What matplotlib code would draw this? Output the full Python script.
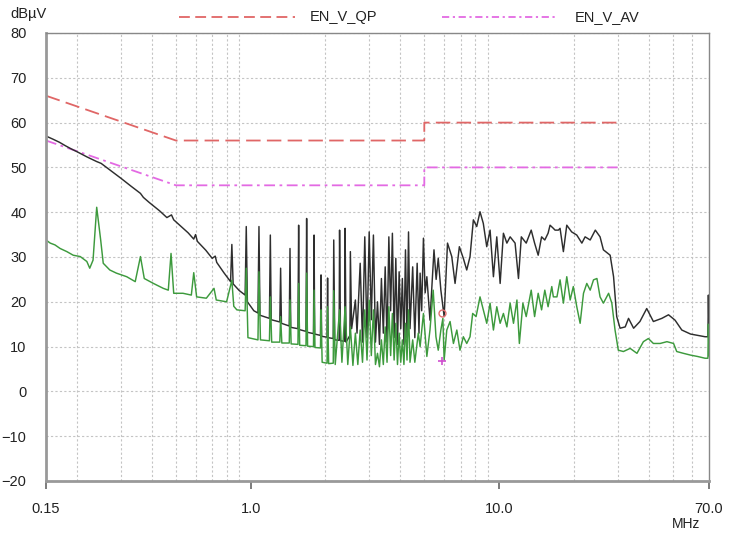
import matplotlib.pyplot as plt
from matplotlib.lines import Line2D
from matplotlib.ticker import FixedLocator, NullFormatter

plt.rcParams['font.family'] = ['Liberation Sans', 'DejaVu Sans']

# limit lines (MHz, dBuV)
lim_f = [0.15, 0.5, 5.0, 5.0, 30.0]
qp_lim = [66, 56, 56, 60, 60]
av_lim = [56, 46, 46, 50, 50]

# peak trace (black)
pk_f = [0.15, 0.16, 0.17, 0.18, 0.19, 0.20, 0.22, 0.24, 0.25, 0.27, 0.30, 0.33, 0.36, 0.37, 0.39,
        0.43, 0.46, 0.48, 0.49, 0.52, 0.56, 0.59, 0.60, 0.61, 0.66, 0.70, 0.72, 0.73, 0.78, 0.83,
        0.84, 0.85, 0.90, 0.95, 0.96, 0.97, 1.03, 1.07, 1.08, 1.09, 1.19, 1.20, 1.21, 1.31, 1.32,
        1.33, 1.43, 1.44, 1.45, 1.55, 1.56, 1.57, 1.67, 1.68, 1.69, 1.79, 1.80, 1.81, 1.91, 1.92,
        1.93, 2.03, 2.04, 2.05, 2.15, 2.16, 2.18, 2.27, 2.28, 2.30, 2.39, 2.40, 2.42, 2.51, 2.52,
        2.55, 2.64, 2.68, 2.76, 2.82, 2.88, 2.94, 3.00, 3.06, 3.12, 3.18, 3.24, 3.30, 3.36, 3.42,
        3.48, 3.54, 3.60, 3.66, 3.72, 3.78, 3.84, 3.90, 3.96, 4.02, 4.08, 4.14, 4.20, 4.26, 4.32,
        4.38, 4.49, 4.58, 4.68, 4.76, 4.81, 4.88, 4.96, 5.04, 5.12, 5.27, 5.47, 5.58, 5.69, 5.83,
        6.01, 6.20, 6.45, 6.65, 6.92, 7.18, 7.41, 7.64, 7.88, 8.13, 8.38, 8.64, 8.92, 9.20, 9.49,
        9.79, 10.1, 10.41, 10.75, 11.08, 11.6, 11.97, 12.29, 12.86, 13.47, 13.9, 14.37, 14.83,
        15.28, 15.75, 16.04, 16.54, 16.8, 17.33, 17.6, 18.15, 18.73, 19.6, 20.55, 21.54, 22.2,
        23.27, 24.4, 25.5, 26.3, 28.0, 28.9, 29.76, 30.7, 32.2, 33.2, 34.8, 36.9, 39.3, 41.8,
        45.2, 48.1, 51.1, 54.4, 59.0, 64.4, 67.5, 69.3, 69.6, 70.0]
pk_db = [57.0, 56.3, 55.6, 54.8, 54.1, 53.5, 52.3, 51.3, 50.9, 49.5, 47.6, 45.8, 44.2, 43.3, 42.2,
         40.3, 38.8, 39.4, 38.3, 37.0, 35.4, 34.0, 35.0, 33.5, 31.5, 29.7, 30.2, 28.8, 26.5, 24.5,
         32.8, 24.0, 22.5, 21.5, 36.8, 20.0, 18.0, 17.5, 36.8, 17.0, 16.3, 34.9, 16.0, 15.5, 27.5,
         15.2, 14.6, 31.9, 14.3, 14.0, 37.1, 13.8, 13.4, 38.6, 13.2, 12.9, 34.9, 12.8, 12.5, 26.0,
         12.3, 12.1, 25.3, 12.0, 11.8, 33.8, 11.5, 11.4, 36.0, 11.3, 11.2, 36.4, 11.0, 12.5, 31.2,
         14.0, 20.4, 13.0, 28.6, 11.0, 34.5, 12.0, 35.6, 16.0, 34.9, 11.0, 20.0, 10.5, 25.2, 13.0,
         27.8, 11.0, 34.5, 18.0, 35.3, 12.0, 29.7, 10.5, 26.7, 14.0, 25.2, 10.5, 31.6, 12.0, 35.6,
         14.0, 27.8, 12.0, 28.6, 13.0, 26.4, 18.0, 34.2, 22.0, 25.6, 15.9, 31.6, 25.0, 29.7, 22.6,
         16.7, 33.1, 30.1, 24.1, 32.3, 29.7, 27.1, 30.1, 38.3, 36.8, 40.1, 37.5, 32.3, 36.0, 25.6,
         34.5, 24.1, 35.3, 33.1, 34.5, 33.1, 25.2, 34.5, 33.1, 36.0, 33.1, 30.4, 34.5,
         33.8, 35.3, 37.1, 36.4, 36.0, 36.0, 36.4, 31.2, 37.1, 35.6, 34.9, 33.1, 34.5,
         33.8, 36.0, 34.5, 31.6, 30.4, 25.6, 16.7, 14.1, 14.4, 16.3, 14.1, 15.6, 18.5, 15.6,
         16.3, 17.1, 15.9, 13.7, 12.8, 12.4, 12.2, 12.2, 21.5, 13.0]

# average trace (green)
av_f = [0.15, 0.156, 0.163, 0.171, 0.182, 0.193, 0.206, 0.219, 0.225, 0.232, 0.24, 0.249, 0.255,
        0.271, 0.288, 0.317, 0.343, 0.36, 0.373, 0.406, 0.445, 0.466, 0.478, 0.49, 0.534, 0.577,
        0.59, 0.606, 0.663, 0.712, 0.727, 0.80, 0.84, 0.855, 0.88, 0.95, 0.96, 0.975, 1.07, 1.08,
        1.095, 1.19, 1.20, 1.215, 1.31, 1.32, 1.335, 1.43, 1.44, 1.455, 1.55, 1.56, 1.575, 1.67,
        1.68, 1.695, 1.79, 1.80, 1.815, 1.91, 1.92, 1.94, 2.03, 2.04, 2.06, 2.15, 2.16, 2.19, 2.28,
        2.33, 2.40, 2.46, 2.52, 2.58, 2.64, 2.70, 2.76, 2.82, 2.88, 2.94, 3.00, 3.06, 3.12, 3.18,
        3.24, 3.30, 3.36, 3.42, 3.48, 3.54, 3.60, 3.66, 3.72, 3.78, 3.84, 3.90, 3.96, 4.02, 4.08,
        4.14, 4.20, 4.26, 4.32, 4.38, 4.49, 4.58, 4.73, 4.81, 4.96, 5.12, 5.27, 5.43, 5.57, 5.69,
        5.83, 5.94, 6.01, 6.16, 6.35, 6.55, 6.76, 6.96, 7.18, 7.41, 7.64, 7.83, 8.08, 8.38, 8.64,
        8.92, 9.20, 9.49, 9.79, 10.1, 10.41, 10.75, 11.08, 11.43, 11.8, 12.07, 12.47, 12.86,
        13.47, 13.9, 14.37, 14.83, 15.28, 15.75, 16.3, 16.54, 17.1, 17.6, 18.15, 18.73, 19.33,
        19.9, 20.55, 21.2, 21.87, 22.55, 23.27, 24.0, 24.77, 25.5, 26.3, 27.6, 28.44, 29.3, 30.2,
        31.66, 33.7, 35.9, 38.1, 39.9, 41.8, 44.5, 47.4, 50.4, 51.9, 55.2, 59.0, 62.9, 67.5, 69.3,
        69.6, 70.0]
av_db = [33.8, 33.1, 32.7, 31.9, 31.2, 30.4, 30.1, 29.0, 27.5, 29.3, 41.1, 33.8, 28.6,
         27.1, 26.4, 25.6, 24.5, 30.1, 25.2, 24.1, 23.0, 22.6, 30.8, 21.9, 21.9, 21.5,
         26.5, 21.1, 20.8, 23.0, 20.4, 20.0, 24.8, 19.0, 18.2, 18.0, 27.5, 12.0, 11.5, 26.7,
         11.5, 11.3, 21.1, 11.0, 11.0, 16.7, 10.8, 10.8, 20.4, 10.6, 10.5, 24.1, 10.3, 10.2,
         26.4, 10.1, 10.0, 22.6, 9.8, 9.7, 18.2, 6.5, 6.3, 18.9, 6.2, 6.3, 22.5, 6.0, 18.2,
         6.5, 18.9, 6.0, 14.4, 5.8, 13.0, 6.0, 13.7, 6.5, 18.2, 7.0, 20.4, 8.0, 18.2, 6.0,
         8.5, 5.5, 11.5, 6.0, 14.4, 6.5, 18.9, 8.0, 17.4, 7.0, 15.2, 6.0, 13.0, 6.5, 11.5,
         6.0, 15.2, 7.0, 18.2, 6.5, 11.5, 6.5, 13.0, 10.0, 17.4, 7.8, 13.7, 22.6, 12.2, 9.2,
         13.7, 16.3, 7.0, 13.7, 15.6, 10.7, 13.7, 9.2, 12.2, 10.7, 12.2, 17.4, 16.7, 21.1, 18.2,
         15.2, 19.7, 13.7, 18.9, 15.2, 17.4, 14.4, 19.7, 15.2, 20.4, 10.7, 19.7, 16.7,
         22.6, 16.7, 21.9, 18.2, 22.6, 18.9, 23.4, 21.1, 21.1, 24.9, 19.7, 25.6, 20.4,
         23.4, 18.9, 15.2, 21.9, 24.1, 22.6, 24.9, 25.2, 21.1, 19.7, 21.9, 19.7, 13.7, 9.2,
         8.9, 9.6, 8.5, 11.1, 11.8, 10.7, 10.7, 11.1, 10.7, 8.9, 8.5, 8.1, 7.8, 7.4, 7.4,
         15.0, 8.0]

mark_f = [5.9]
mark_qp = [17.4]
mark_av = [6.7]

W, H = 732, 536
fig = plt.figure(figsize=(W / 100, H / 100), dpi=100)
ax = fig.add_axes([46 / W, 1 - 481 / H, (709 - 46) / W, (481 - 33) / H])

ax.plot(lim_f, qp_lim, color='#e06666', lw=1.3, dashes=(8, 3.5))
ax.plot(lim_f, av_lim, color='#e36ae3', lw=1.3, dashes=(6, 2.5, 1.5, 2.5))
ax.plot(pk_f, pk_db, color='#2e2e2e', lw=1.05)
ax.plot(av_f, av_db, color='#3d9a3d', lw=1.05)
ax.plot(mark_f, mark_qp, 'o', ms=5, mfc='none', mec='#e07070', mew=1)
ax.plot(mark_f, mark_av, '+', ms=6, color='#d050d0', mew=1.2)

ax.set_xscale('log')
ax.set_xlim(0.15, 70)
ax.set_ylim(-20, 80)
ax.xaxis.set_major_locator(FixedLocator([0.15, 1.0, 10.0, 70.0]))
ax.set_xticklabels(['0.15', '1.0', '10.0', '70.0'])
minor = [0.2, 0.3, 0.4, 0.5, 0.6, 0.7, 0.8, 0.9, 1, 2, 3, 4, 5, 6, 7, 8, 9, 10,
         20, 30, 40, 50, 60]
ax.xaxis.set_minor_locator(FixedLocator(minor))
ax.xaxis.set_minor_formatter(NullFormatter())
ax.set_yticks(range(-20, 81, 10))

ax.grid(which='minor', axis='x', color='#c4c4c4', lw=0.8, dashes=(2, 2))
ax.grid(which='major', axis='y', color='#c4c4c4', lw=0.8, dashes=(2, 2))
ax.tick_params(axis='x', which='minor', length=0)
ax.tick_params(axis='x', which='major', length=6, width=1.2, color='#666666',
               direction='out', pad=9, labelsize=10.5, labelcolor='#222222')
ax.tick_params(axis='y', length=0, pad=14, labelsize=10.5, labelcolor='#222222')

for s in ['left', 'bottom']:
    ax.spines[s].set_color('#999999')
    ax.spines[s].set_linewidth(2)
for s in ['top', 'right']:
    ax.spines[s].set_color('#888888')
    ax.spines[s].set_linewidth(1)

fig.text(10 / W, 1 - 14 / H, 'dB\u00b5V', fontsize=10.5, color='#222222', va='center', ha='left')
fig.text(686 / W, 1 - 524 / H, 'MHz', fontsize=10, color='#222222', va='center', ha='center')

fig.add_artist(Line2D([179 / W, 295 / W], [1 - 17 / H, 1 - 17 / H], color='#e06666', lw=1.3,
                      dashes=(6, 3)))
fig.text(310 / W, 1 - 17 / H, 'EN_V_QP', fontsize=10.5, color='#222222', va='center')
fig.add_artist(Line2D([442 / W, 557 / W], [1 - 17 / H, 1 - 17 / H], color='#e36ae3', lw=1.3,
                      dashes=(4, 2, 1.2, 2)))
fig.text(575 / W, 1 - 17 / H, 'EN_V_AV', fontsize=10.5, color='#222222', va='center')

fig.savefig('out.png', dpi=100)
